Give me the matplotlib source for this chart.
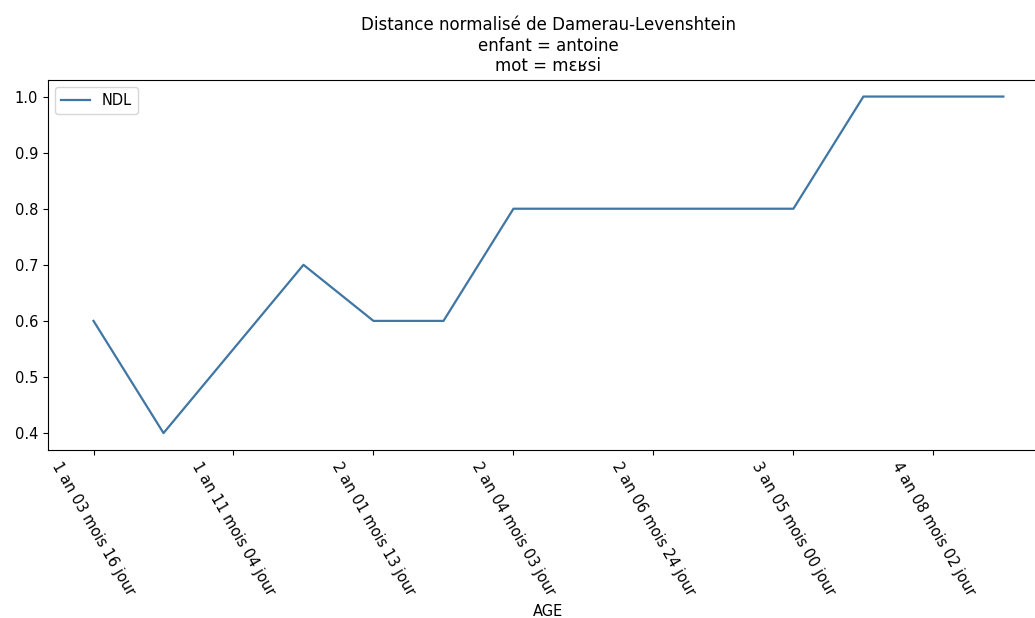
import matplotlib.pyplot as plt

# NDL value at each recording session (in order)
ndl = [0.6, 0.4, 0.55, 0.7, 0.6, 0.6, 0.8, 0.8, 0.8, 0.8, 0.8, 1.0, 1.0, 1.0]

# only every other age is labelled on the axis
tick_pos = [0, 2, 4, 6, 8, 10, 12]
tick_labels = ["1 an 03 mois 16 jour",
               "1 an 11 mois 04 jour",
               "2 an 01 mois 13 jour",
               "2 an 04 mois 03 jour",
               "2 an 06 mois 24 jour",
               "3 an 05 mois 00 jour",
               "4 an 08 mois 02 jour"]

x = list(range(len(ndl)))

fig = plt.figure(figsize=(10.35, 6.18), dpi=100)
# the original screenshot cuts off the right side of the axes
ax = fig.add_axes([0.0464, 0.272, 0.967, 0.599])
ax.plot(x, ndl, color='#3f76a3', linewidth=1.6, label='NDL')
ax.set_ylim(0.37, 1.03)
ax.set_xticks(tick_pos)
ax.set_xticklabels(tick_labels, rotation=-60, ha='center', fontsize=10.5)
ax.tick_params(axis='y', labelsize=10.5)
ax.set_xlabel('AGE', fontsize=10.5)
ax.set_title("Distance normalisé de Damerau-Levenshtein\nenfant = antoine\nmot = mɛʁsi",
             fontsize=12)
ax.legend(loc='upper left', fontsize=10.5)

plt.savefig('out.png')
